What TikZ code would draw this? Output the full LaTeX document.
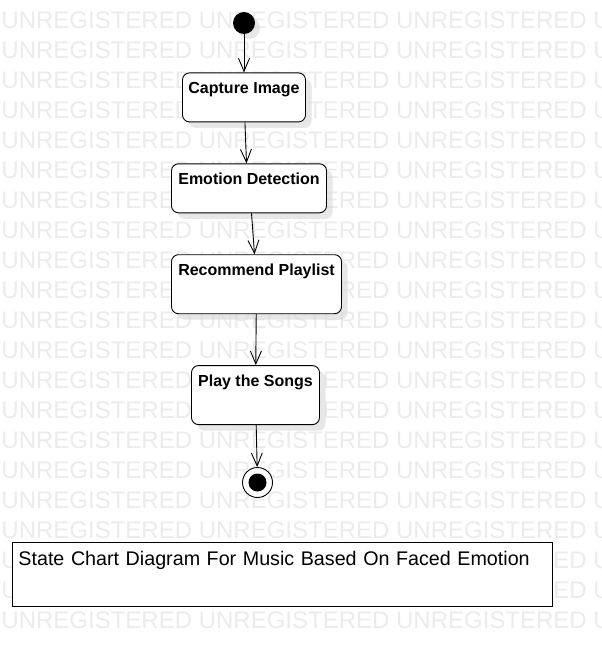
\documentclass[tikz,border=0pt]{standalone}
\usepackage{fontspec}
\setmainfont{Liberation Sans}
\usetikzlibrary{arrows.meta,positioning,shadows}
\definecolor{wmgray}{RGB}{235,235,235}
\definecolor{shadowgray}{RGB}{215,215,215}

\begin{document}
\begin{tikzpicture}[->,>={Straight Barb[length=13pt,width=11pt]},x=1pt,y=-1pt,
                    line width=0.9pt,node distance=41pt]
  \tikzstyle{watermark}=[anchor=base west,inner sep=0pt,text=wmgray,
    font=\fontsize{24}{24}\selectfont]
  \tikzstyle{state box}=[rectangle,rounded corners=7pt,draw=black,fill=white,
    font=\bfseries\fontsize{16}{18}\selectfont,text height=21pt,inner ysep=0pt,
    drop shadow={shadow xshift=6pt,shadow yshift=-6pt,fill=shadowgray,opacity=0.6}]
  \tikzstyle{initial dot}=[circle,fill=black,minimum size=22pt,inner sep=0pt,
    drop shadow={shadow xshift=5pt,shadow yshift=-5pt,fill=shadowgray,opacity=0.6}]
  \tikzstyle{final dot}=[circle,draw=black,fill=white,minimum size=30pt,inner sep=0pt,
    path picture={\fill[black] (path picture bounding box.center) circle (9pt);}]
  \tikzstyle{title box}=[rectangle,draw=black,fill=white,anchor=north west,
    font=\fontsize{19.7}{22}\selectfont,text width=528pt,align=left,inner xsep=6pt,
    inner ysep=0pt,text height=23pt,text depth=41pt]

  \useasboundingbox[-] (0,0) rectangle (602,656);

  % background text
  \foreach \k in {0,...,20}
    \node[watermark] (wm\k) at (1,28+30*\k) {UNREGISTERED UNREGISTERED UNREGISTERED U};

  \node[initial dot] (init) at (244,23) {};
  \node[state box,minimum width=123pt,text depth=28pt] (cap) [below=38pt of init]
    {Capture Image};
  \node[state box,minimum width=155pt,text depth=28pt] (emo) [below=of cap,xshift=5pt]
    {Emotion Detection};
  \node[state box,minimum width=170pt,text depth=38pt] (rec) [below=of emo,xshift=7.5pt]
    {Recommend Playlist};
  \node[state box,minimum width=128pt,text depth=38pt] (play) [below=51pt of rec,xshift=-1pt]
    {Play the Songs};
  \node[final dot] (fin) [below=42pt of play,xshift=2pt] {};

  \node[title box] (title) at (12,542)
    {State Chart Diagram For Music Based On Faced Emotion};

  \draw (init) -- (cap);
  \draw (cap) -- ([xshift=-2.5pt]emo.north);
  \draw ([xshift=2.5pt]emo.south) -- ([xshift=-2pt]rec.north);
  \draw (rec) -- (play);
  \draw (play) -- (fin);

\end{tikzpicture}
\end{document}
